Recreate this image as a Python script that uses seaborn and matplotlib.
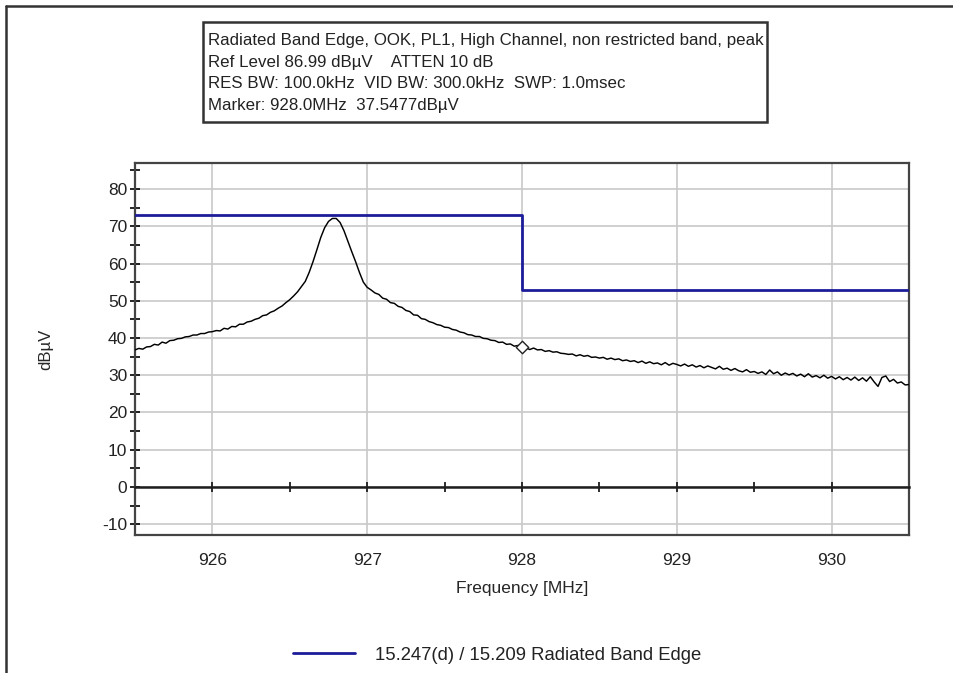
import numpy as np
import pandas as pd
import matplotlib
matplotlib.use("Agg")
import matplotlib.pyplot as plt
from matplotlib.patches import Rectangle
from matplotlib.lines import Line2D
import seaborn as sns

# ---------------- data ----------------
freq_start, freq_stop = 925.5, 930.5          # MHz, analyzer span
trace_dbuv = [
    36.8, 37.2, 37.0, 37.6, 37.7, 38.3, 38.1, 38.9, 38.6, 39.3,
    39.4, 39.8, 39.9, 40.3, 40.4, 40.8, 40.8, 41.2, 41.2, 41.6,
    41.7,
    42.0, 41.9, 42.6, 42.4, 43.1, 43.0, 43.7, 43.7, 44.3, 44.5,
    45.0, 45.3, 46.0, 46.2, 46.9, 47.3, 48.0, 48.6, 49.5, 50.3,
    51.3, 52.4, 53.8, 55.2, 57.6, 60.5, 63.7, 67.0, 69.6, 71.3,
    72.1, 72.1, 71.0, 68.8, 66.0, 63.2, 60.5, 57.6, 55.0, 53.6,
    52.9, 52.1, 51.7, 50.7, 50.4, 49.5, 49.3, 48.5, 48.2, 47.4,
    47.1, 46.2, 46.1, 45.2, 45.0, 44.4, 44.1, 43.6, 43.4, 42.9,
    42.8, 42.3, 42.1, 41.6, 41.4, 40.9, 40.8, 40.4, 40.4, 39.9,
    39.8, 39.4, 39.3, 38.8, 38.9, 38.3, 38.4, 37.8, 38.0, 37.5,
    37.4, 36.9, 37.3, 36.8, 36.9, 36.4, 36.6, 36.2, 36.3, 35.9,
    35.8, 35.6, 35.7, 35.2, 35.5, 35.1, 35.3, 34.8, 34.9, 34.6,
    34.8, 34.3, 34.6, 34.2, 34.4, 33.9, 34.1, 33.7, 33.9, 33.4,
    33.8, 33.2, 33.6, 33.1, 33.3, 32.8, 33.4, 32.7, 33.2, 32.9,
    32.5, 33.0, 32.4, 32.8, 32.2, 32.6, 32.0, 32.5, 32.1, 31.7,
    32.4, 31.6, 31.9, 31.3, 31.8, 31.2, 30.9, 31.5, 30.8, 31.0,
    30.5, 30.9, 30.2, 31.4, 30.4, 30.9, 30.0, 30.6, 30.1, 30.5,
    29.8, 30.3, 29.6, 30.4, 29.5, 29.9, 29.3, 30.0, 29.2, 29.7,
    29.0, 29.6, 28.8, 29.4, 28.7, 29.5, 28.6, 29.3, 28.4, 29.6,
    28.2, 27.0, 29.4, 29.8, 28.3, 28.9, 27.9, 28.2, 27.4, 27.5,
]
limit_freq = [925.5, 928.0, 928.0, 930.5]
limit_dbuv = [73.0, 73.0, 53.0, 53.0]
marker_freq = [928.0]
marker_dbuv = [37.5477]
x_ticks = [926, 927, 928, 929, 930]
x_minor_ticks = [926.5, 927.5, 928.5, 929.5]
y_ticks = [-10, 0, 10, 20, 30, 40, 50, 60, 70, 80]
y_minor_ticks = [-5, 5, 15, 25, 35, 45, 55, 65, 75, 85]
ref_level = 86.99
header_lines = [
    "Radiated Band Edge, OOK, PL1, High Channel, non restricted band, peak",
    "Ref Level 86.99 dB\u00b5V    ATTEN 10 dB",
    "RES BW: 100.0kHz  VID BW: 300.0kHz  SWP: 1.0msec",
    "Marker: 928.0MHz  37.5477dB\u00b5V",
]
legend_label = "15.247(d) / 15.209 Radiated Band Edge"

# ---------------- style ----------------
sns.set_theme(style="white")
plt.rcParams["font.family"] = ["Liberation Sans", "DejaVu Sans"]
plt.rcParams["text.color"] = "#222222"
plt.rcParams["axes.unicode_minus"] = False

trace_df = pd.DataFrame({
    "freq": np.linspace(freq_start, freq_stop, len(trace_dbuv)),
    "level": trace_dbuv,
})
limit_df = pd.DataFrame({"freq": limit_freq, "level": limit_dbuv})
marker_df = pd.DataFrame({"freq": marker_freq, "level": marker_dbuv})

fig = plt.figure(figsize=(9.54, 6.73), dpi=100)
fig.patch.set_facecolor("white")
ax = fig.add_axes([135 / 954, 1 - 535 / 673, 774 / 954, 372 / 673])

ymin = -12.9
ax.set_xlim(freq_start, freq_stop)
ax.set_ylim(ymin, ref_level)

# grid
ax.set_xticks(x_ticks)
ax.set_yticks(y_ticks)
ax.set_yticks(y_minor_ticks, minor=True)
ax.grid(True, which="major", color="#c8c8c8", linewidth=1.2)
ax.set_axisbelow(True)

line_blue = "#1c1c9a"
sns.lineplot(data=limit_df, x="freq", y="level", sort=False, estimator=None,
             color=line_blue, linewidth=2.0, ax=ax, zorder=3)
sns.lineplot(data=trace_df, x="freq", y="level", sort=False, estimator=None,
             color="black", linewidth=1.05, ax=ax, zorder=4)
sns.scatterplot(data=marker_df, x="freq", y="level", marker="D", s=40,
                facecolor="white", edgecolor="#222222", linewidth=1.0,
                ax=ax, zorder=5)

for sp in ax.spines.values():
    sp.set_color("#444444")
    sp.set_linewidth(1.6)

ax.tick_params(axis="x", which="both", length=0, pad=13, labelsize=12.5,
               colors="#222222", bottom=False)
ax.tick_params(axis="y", which="both", direction="inout", length=7,
               width=1.2, color="black", labelsize=12.5, labelcolor="#222222",
               pad=2, left=True)

ax.set_xlabel("Frequency [MHz]", fontsize=12.5, labelpad=9)
ax.set_ylabel("dB\u00b5V", fontsize=12, labelpad=35)

# frequency axis line sitting on 0 dBuV, with ticks every 0.5 MHz
ax2 = ax.twiny()
ax2.set_xlim(freq_start, freq_stop)
for name in ("top", "left", "right"):
    ax2.spines[name].set_visible(False)
ax2.spines["bottom"].set_position(("data", 0))
ax2.spines["bottom"].set_color("#1e1e1e")
ax2.spines["bottom"].set_linewidth(1.8)
ax2.xaxis.set_ticks_position("bottom")
ax2.set_xticks(x_ticks)
ax2.set_xticks(x_minor_ticks, minor=True)
ax2.tick_params(axis="x", which="both", direction="inout", length=7,
                width=1.3, color="#1e1e1e", bottom=True, top=False,
                labelbottom=False, labeltop=False)
ax2.grid(False)

# header box
fig.add_artist(Rectangle((203 / 954, 1 - 122 / 673), 564 / 954, 100 / 673,
                         transform=fig.transFigure, facecolor="white",
                         edgecolor="#333333", linewidth=1.8))
for i, txt in enumerate(header_lines):
    fig.text(208 / 954, 1 - (40.5 + 21.7 * i) / 673, txt, fontsize=12.2,
             va="center", ha="left", color="#222222")

# outer frame (top & left)
fig.add_artist(Line2D([6 / 954, 1.0], [1 - 6 / 673, 1 - 6 / 673],
                      transform=fig.transFigure, color="#333333", linewidth=1.8))
fig.add_artist(Line2D([6 / 954, 6 / 954], [0.0, 1 - 6 / 673],
                      transform=fig.transFigure, color="#333333", linewidth=1.8))

# legend
handle = Line2D([], [], color=line_blue, linewidth=2.0)
fig.legend([handle], [legend_label], loc="center",
           bbox_to_anchor=(497 / 954, 1 - 655 / 673), frameon=False,
           fontsize=13.3, handlelength=3.35, handletextpad=1.1)

fig.savefig("out.png", dpi=100, facecolor="white")
